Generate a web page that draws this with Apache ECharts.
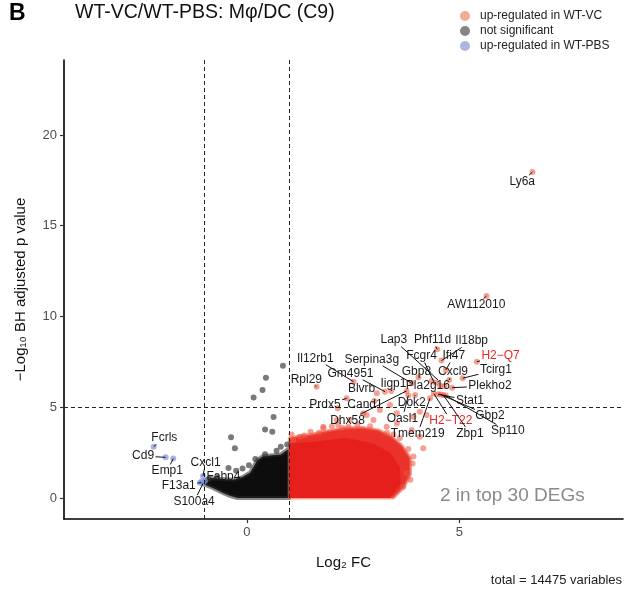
<!DOCTYPE html>
<html><head><meta charset="utf-8">
<script src="https://cdn.jsdelivr.net/npm/echarts@6/dist/echarts.min.js"></script>
<style>html,body{margin:0;padding:0;background:#fff}#c{width:630px;height:591px}</style>
</head><body><div id="c"></div>
<script>
// ---- data ----
const X_TICKS = [0, 5];
const Y_TICKS = [0, 5, 10, 15, 20];
const FC_CUTOFFS = [-1, 1];
const P_CUTOFF = 5;

// outline of the dense cloud of non-significant genes
const NS_CLOUD = [[-1.0,0.95],[-0.85,1.1],[-0.6,1.05],[-0.32,1.0],[-0.1,1.15],[0.08,1.4],[0.18,1.8],[0.25,2.1],[0.38,2.3],[0.6,2.35],[0.8,2.4],[0.95,2.65],[1.0,2.7],[1.0,0],[-0.22,0],[-0.4,0.12],[-0.56,0.28],[-0.8,0.55],[-1.0,0.75]];
// outline of the dense cloud of genes up in WT-VC
const UP_CLOUD_OUTER = [[1.0,0],[1.0,3.3],[1.2,3.4],[1.5,3.5],[1.9,3.7],[2.3,3.85],[2.7,3.9],[3.1,3.75],[3.4,3.4],[3.65,2.9],[3.85,2.2],[3.85,1.3],[3.7,0.6],[3.45,0]];
const UP_CLOUD_CORE = [[1.0,0],[1.0,3.0],[1.56,3.1],[2.35,3.3],[2.97,3.0],[3.37,2.5],[3.6,1.7],[3.62,0.8],[3.37,0]];

const NS_POINTS = [[0.85,7.29],[0.45,6.62],[0.37,5.95],[0.16,5.54],[0.63,4.46],[0.43,3.78],[0.6,3.65],[-0.37,3.34],[-0.28,2.74],[0.43,2.41],[0.8,2.83],[-0.43,1.65],[-0.1,1.62],[-0.25,1.5],[0.05,1.8],[0.2,2.15],[0.95,2.95],[-0.7,1.15],[-0.9,1.05],[0.7,2.6]];
const UP_POINTS = [[6.72,17.96],[5.64,11.13],[5.41,7.51],[5.08,6.6],[4.48,8.19],[4.58,7.57],[4.68,7.05],[4.35,6.45],[4.45,6.35],[4.76,6.5],[4.55,6.2],[4.65,6.15],[4.83,6.08],[4.4,5.75],[4.5,5.72],[4.56,5.7],[4.62,5.68],[4.68,5.65],[4.04,6.65],[3.88,6.32],[3.76,5.9],[3.8,5.65],[3.96,5.67],[4.31,5.49],[3.4,5.9],[3.25,5.86],[3.06,5.77],[2.51,6.41],[1.64,6.13],[2.35,5.49],[2.14,4.94],[3.0,5.35],[3.37,5.12],
  [1.80,3.84],[2.15,4.02],[2.43,4.30],[2.82,4.57],[3.13,4.85],[3.53,4.67],[3.92,4.48],[4.07,4.75],[4.23,4.57],[4.15,2.74],[3.92,2.28],[3.88,3.75],[4.07,3.38],[3.53,4.11],[2.74,4.67],[2.98,4.30],[2.12,4.30],[1.80,3.93],[1.25,3.38],[2.39,3.93],[3.29,3.93],[3.76,1.36],[3.68,0.62],[1.05,3.5],[1.5,3.65],[2.0,3.95],[2.6,4.05],[3.3,3.6],[3.6,3.3],[3.8,2.7],[3.9,1.9],[3.85,1.0],[1.1,3.2],[1.35,3.45],[1.7,3.6],[2.25,3.85],[2.9,3.95],[3.45,3.5]];
const DOWN_POINTS = [[-2.19,2.83],[-1.91,2.24],[-1.73,2.18],[-1.03,1.21],[-1.1,0.84],[-1.03,0.8],[-1.06,0.92],[-0.98,0.95]];

// gene labels: [gene, point x, point y, label x, label y]
const LABELS = [
  ['Ly6a',6.72,17.96,6.48,17.43],
  ['AW112010',5.64,11.13,5.40,10.63],
  ['Lap3',4.5,6.5,3.46,8.7],
  ['Phf11d',4.48,8.19,4.37,8.7],
  ['Il18bp',4.58,7.57,5.29,8.65],
  ['Fcgr4',4.4,6.4,4.11,7.82],
  ['Ifi47',4.68,7.05,4.87,7.82],
  ['H2\u2212Q7',5.41,7.51,5.97,7.82],
  ['Serpina3g',3.88,6.32,2.94,7.64],
  ['Il12rb1',2.51,6.41,1.61,7.7],
  ['Gm4951',3.25,5.86,2.44,6.87],
  ['Gbp8',4.04,6.65,3.99,6.96],
  ['Cxcl9',4.76,6.5,4.85,6.96],
  ['Tcirg1',5.08,6.6,5.86,7.05],
  ['Rpl29',1.64,6.13,1.40,6.54],
  ['Iigp1',3.4,5.9,3.45,6.32],
  ['Pla2g16',4.55,6.2,4.26,6.17],
  ['Plekho2',4.83,6.08,5.72,6.17],
  ['Blvrb',3.06,5.77,2.70,6.04],
  ['Stat1',4.5,5.72,5.25,5.36],
  ['Prdx5',2.35,5.49,1.84,5.12],
  ['Cand1',3.0,5.35,2.78,5.12],
  ['Dok2',3.96,5.67,3.88,5.25],
  ['Gbp2',4.56,5.7,5.72,4.52],
  ['Dhx58',3.76,5.9,2.37,4.26],
  ['Oasl1',3.8,5.65,3.66,4.39],
  ['H2\u2212T22',4.4,5.75,4.80,4.26],
  ['Zbp1',4.62,5.68,5.25,3.56],
  ['Sp110',4.68,5.65,6.14,3.69],
  ['Tmem219',4.31,5.49,4.02,3.56],
  ['Fcrls',-2.19,2.83,-1.94,3.31],
  ['Cd9',-1.91,2.24,-2.44,2.31],
  ['Emp1',-1.73,2.18,-1.87,1.49],
  ['Cxcl1',-1.03,1.21,-0.97,1.97],
  ['Fabp4',-0.98,0.95,-0.55,1.17],
  ['F13a1',-1.07,0.85,-1.6,0.68],
  ['S100a4',-1.03,0.8,-1.24,-0.2]
];
const TOP_DEG_LABELS = ['H2\u2212Q7','H2\u2212T22'];

// ---- chart ----
const FONT = '"Liberation Sans", Arial, Helvetica, sans-serif';
const chart = echarts.init(document.getElementById('c'), null, {renderer:'canvas'});
const measure = document.createElement('canvas').getContext('2d');
measure.font = '12px ' + FONT;

function polygonSeries(name, poly, fill, stroke, lw, z){
  return {type:'custom', name, silent:true, z, clip:true,
    data:[poly[0]],
    renderItem:(params, api) => ({type:'polygon',
      shape:{points: poly.map(p => api.coord(p))},
      style:{fill, stroke, lineWidth:lw, lineJoin:'round'}})
  };
}

const dashed = {color:'#222', width:1, type:[4,3]};

const option = {
  animation:false,
  backgroundColor:'#fff',
  grid:{left:64, right:7, top:60, bottom:72},
  xAxis:{type:'value', min:-4.3, max:8.85,
    splitLine:{show:false},
    axisLine:{onZero:false, lineStyle:{color:'#000', width:1.6}},
    axisTick:{customValues:X_TICKS, length:4, lineStyle:{color:'#333', width:1.2}},
    axisLabel:{customValues:X_TICKS, color:'#4d4d4d', fontSize:13, margin:7, fontFamily:FONT},
    name:'Log\u2082 FC', nameLocation:'middle', nameGap:36,
    nameTextStyle:{fontSize:15, color:'#111', fontFamily:FONT}},
  yAxis:{type:'value', min:-1.157, max:24.13,
    splitLine:{show:false},
    axisLine:{onZero:false, lineStyle:{color:'#000', width:1.6}},
    axisTick:{customValues:Y_TICKS, length:4, lineStyle:{color:'#333', width:1.2}},
    axisLabel:{customValues:Y_TICKS, color:'#4d4d4d', fontSize:13, margin:7, fontFamily:FONT},
    name:'\u2212Log\u2081\u2080 BH adjusted p value', nameLocation:'middle', nameGap:36, nameRotate:90,
    nameTextStyle:{fontSize:15, color:'#111', fontFamily:FONT}},
  legend:{orient:'vertical', left:455, top:5, itemWidth:20, itemHeight:10, itemGap:3,
    icon:'circle', selectedMode:false,
    textStyle:{fontSize:12, color:'#222', fontFamily:FONT},
    data:[{name:'up-regulated in WT-VC', itemStyle:{color:'#f4937b'}},
          {name:'not significant', itemStyle:{color:'#666666'}},
          {name:'up-regulated in WT-PBS', itemStyle:{color:'#9aa4d8'}}]},
  graphic:[
    {type:'text', left:9, top:2, style:{text:'B', font:'bold 23px '+FONT, fill:'#000'}},
    {type:'text', left:75, top:3, style:{text:'WT-VC/WT-PBS: M\u03c6/DC (C9)', font:'19.5px '+FONT, fill:'#111'}},
    {type:'text', left:440, top:486, style:{text:'2 in top 30 DEGs', font:'19px '+FONT, fill:'#8a8a8a'}},
    {type:'text', right:8, top:574, style:{text:'total = 14475 variables', font:'13px '+FONT, fill:'#222'}}
  ],
  series:[
    polygonSeries('nsCloud', NS_CLOUD, '#0d0d0d', 'rgba(40,40,40,0.55)', 4, 1),
    polygonSeries('upCloudOuter', UP_CLOUD_OUTER, 'rgba(233,38,32,0.95)', 'rgba(240,95,75,0.6)', 3, 1),
    polygonSeries('upCloudCore', UP_CLOUD_CORE, '#e61f1c', null, 0, 1),
    {type:'scatter', name:'not significant', data:NS_POINTS, symbolSize:6, z:2,
      itemStyle:{color:'rgba(45,45,45,0.8)'}},
    {type:'scatter', name:'up-regulated in WT-VC', data:UP_POINTS, symbolSize:6, z:2,
      itemStyle:{color:'rgba(238,85,60,0.7)'},
      markLine:{silent:true, symbol:'none', label:{show:false}, lineStyle:dashed, z:5,
        data: FC_CUTOFFS.map(v => ({xAxis:v})).concat([{yAxis:P_CUTOFF}])}},
    {type:'scatter', name:'up-regulated in WT-PBS', data:DOWN_POINTS, symbolSize:6, z:2,
      itemStyle:{color:'rgba(130,145,215,0.85)'}},
    {type:'custom', name:'labels', silent:true, z:6, clip:false,
      data: LABELS.map(l => [l[3], l[4]]),
      renderItem:(params, api) => {
        const L = LABELS[params.dataIndex];
        const P = api.coord([L[1], L[2]]), C = api.coord([L[3], L[4]]);
        const w = measure.measureText(L[0]).width;
        const hw = w/2 + 1.5, hh = 6.5;
        const dx = P[0]-C[0], dy = P[1]-C[1];
        const t = Math.min(dx ? hw/Math.abs(dx) : Infinity, dy ? hh/Math.abs(dy) : Infinity);
        const children = [];
        if (t < 1) children.push({type:'line', shape:{x1:C[0]+dx*t, y1:C[1]+dy*t, x2:P[0], y2:P[1]},
          style:{stroke:'#111', lineWidth:1}});
        const red = TOP_DEG_LABELS.indexOf(L[0]) >= 0;
        children.push({type:'text', style:{x:C[0], y:C[1], text:L[0], fill: red ? '#e8261f' : '#1a1a1a',
          font:'12px '+FONT, align:'center', verticalAlign:'middle', textAlign:'center', textVerticalAlign:'middle'}});
        return {type:'group', children};
      }}
  ]
};
chart.setOption(option);
</script></body></html>
